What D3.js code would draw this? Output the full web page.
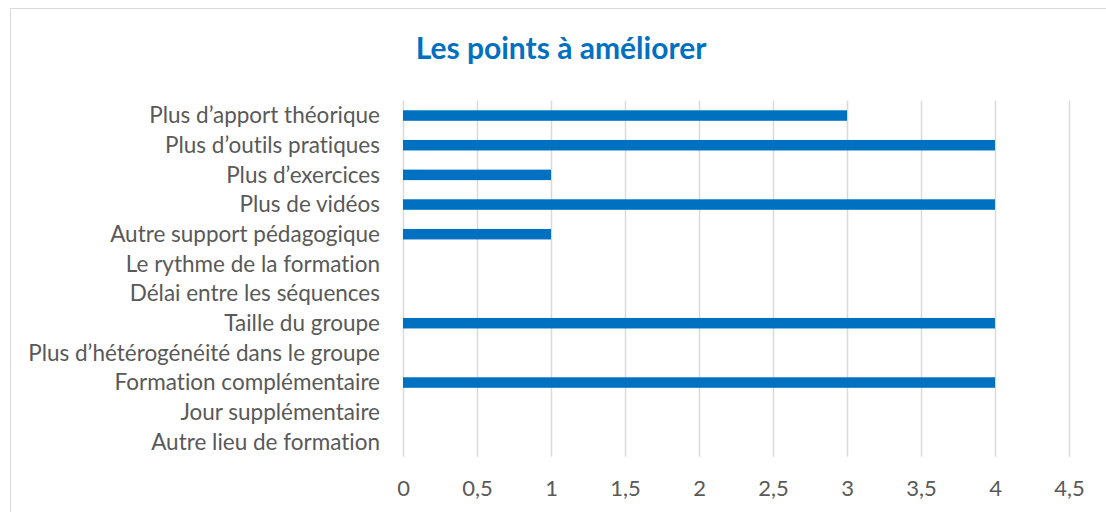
<!DOCTYPE html>
<html><head><meta charset="utf-8">
<script src="https://cdn.jsdelivr.net/npm/d3@7"></script>
<style>html,body{margin:0;padding:0;background:#fff;}svg{display:block;}text{font-variant-ligatures:none;font-feature-settings:"liga" 0;}</style>
</head><body>
<script>
const categories = ["Plus d’apport théorique","Plus d’outils pratiques","Plus d’exercices","Plus de vidéos","Autre support pédagogique","Le rythme de la formation","Délai entre les séquences","Taille du groupe","Plus d’hétérogénéité dans le groupe","Formation complémentaire","Jour supplémentaire","Autre lieu de formation"];
const values = [3,4,1,4,1,0,0,4,0,4,0,0];
const ticks = [0,0.5,1,1.5,2,2.5,3,3.5,4,4.5];
const title = "Les points à améliorer";

const W=1106,H=512;
const svg=d3.select("body").append("svg").attr("width",W).attr("height",H);
svg.append("rect").attr("x",10.5).attr("y",8.5).attr("width",W+10).attr("height",H+10).attr("fill","#fff").attr("stroke","#d9d9d9").attr("stroke-width",1);

const x=d3.scaleLinear().domain([0,4.5]).range([403,1069]);
const y=d3.scaleBand().domain(categories).range([100.7,456.7]).paddingInner(0.646).paddingOuter(0.323);
const font="Lato, 'Open Sans', sans-serif";

svg.append("text").attr("x",561).attr("y",59).attr("text-anchor","middle").attr("font-family",font).attr("font-weight","bold").attr("font-size",30).attr("fill","#0070C0").text(title);

svg.append("g").selectAll("line").data(ticks).join("line")
 .attr("x1",d=>Math.round(x(d))+0.5).attr("x2",d=>Math.round(x(d))+0.5).attr("y1",100.7).attr("y2",456.7)
 .attr("stroke","#d9d9d9").attr("stroke-width",1.5);

svg.append("g").selectAll("rect").data(categories).join("rect")
 .attr("x",x(0)).attr("y",d=>y(d)).attr("height",y.bandwidth())
 .attr("width",(d,i)=>x(values[i])-x(0)).attr("fill","#0070C0");

const ax=svg.append("g").attr("transform","translate(0,456.7)").call(d3.axisBottom(x).tickValues(ticks).tickSize(0).tickPadding(0).tickFormat(d=>String(d).replace(".",",")));
ax.select(".domain").remove();
ax.selectAll("text").attr("dy",null).attr("y",39).attr("font-family",font).attr("font-size",22).attr("fill","#595959");

const ay=svg.append("g").attr("transform","translate(380,0)").call(d3.axisLeft(y).tickSize(0).tickPadding(0));
ay.select(".domain").remove();
ay.selectAll("text").attr("dy","0.35em").attr("x",0).attr("font-family",font).attr("font-size",22.5).attr("fill","#595959");
</script>
</body></html>
